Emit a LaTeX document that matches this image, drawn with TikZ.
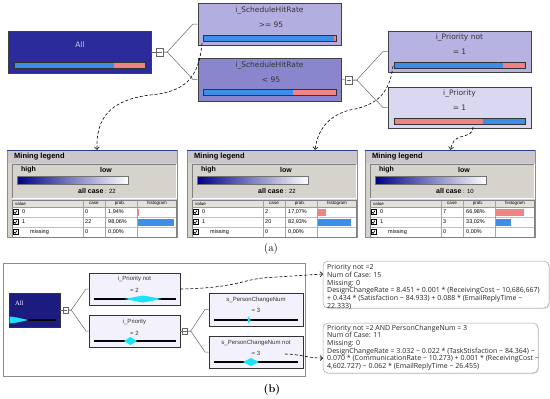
\documentclass[tikz,border=0pt]{standalone}
\usepackage{fontspec}
\usetikzlibrary{arrows.meta,shadows,calc}
\newfontfamily\dvs{DejaVu Sans}
\newfontfamily\las{Liberation Sans}
\newfontfamily\lasr{Liberation Serif}
\newfontfamily\opsans{Open Sans}
\definecolor{allA}{HTML}{2B2B9B}
\definecolor{nAa}{HTML}{B2AEDF}
\definecolor{nAb}{HTML}{8A86CD}
\definecolor{nAc}{HTML}{B6B2E1}
\definecolor{nAd}{HTML}{DAD8F0}
\definecolor{barblue}{HTML}{3C8EE8}
\definecolor{barpink}{HTML}{F08484}
\definecolor{legbg}{HTML}{D6D2CC}
\definecolor{leghd}{HTML}{CBC7CB}
\definecolor{tabhd}{HTML}{E4E1DC}
\definecolor{legnavy}{HTML}{2A3C8C}
\definecolor{gradhi}{HTML}{00008A}
\definecolor{allB}{HTML}{1C1C80}
\definecolor{nB}{HTML}{F3F1FB}
\definecolor{cyanB}{HTML}{19E3F5}
\definecolor{txt}{HTML}{333333}
\tikzset{
 treeA/.style={draw=black!75, line width=0.7pt, inner sep=0pt},
 treeB/.style={draw=black!80, line width=0.9pt, inner sep=0pt, fill=nB},
 colbox/.style={draw=black!60, fill=white, line width=0.5pt, minimum width=7pt, minimum height=8pt, inner sep=0pt},
 colboxB/.style={draw=black!60, fill=white, line width=0.5pt, minimum width=5pt, minimum height=6pt, inner sep=0pt},
 tline/.style={draw=black!60, line width=0.5pt},
 ttA/.style={font=\dvs\fontsize{7.5}{8}\selectfont, text=txt, inner sep=0pt},
 ttB/.style={font=\las\fontsize{6}{7}\selectfont, text=txt, inner sep=0pt},
 barA/.style={draw=black!80, line width=0.6pt},
 dconn/.style={densely dashed, line width=0.6pt, -{Straight Barb[length=2.5pt,width=5pt]}},
 legbox/.style={draw=black!45, fill=legbg, minimum width=170pt, minimum height=87pt, inner sep=0pt},
 legtitle/.style={font=\las\bfseries\fontsize{7.5}{8}\selectfont, anchor=west, inner sep=0pt},
 legbig/.style={font=\las\bfseries\fontsize{7}{8}\selectfont, anchor=west, inner sep=0pt},
 legsmall/.style={font=\las\fontsize{6}{7}\selectfont, anchor=west, inner sep=0pt},
 tabh/.style={font=\las\fontsize{4.5}{5}\selectfont, inner sep=0pt},
 tabr/.style={font=\las\fontsize{5.5}{6}\selectfont, anchor=west, inner sep=0pt},
 callout/.style={draw=black!35, fill=white, rounded corners=5pt, line width=0.5pt, inner sep=0pt,
   drop shadow={opacity=0.25, shadow xshift=1pt, shadow yshift=-1pt}},
 ctext/.style={font=\opsans\fontsize{7}{7.7}\selectfont, align=left, inner sep=0pt, text=black!85, anchor=north west},
}
\newcommand\twobar[6]{%
 \fill[#5] (#1,#4) rectangle (#3,#4+6);
 \fill[#6] (#3,#4) rectangle (#2,#4+6);
 \draw[barA] (#1,#4) rectangle (#2,#4+6);}
\newcommand\chkbox[2]{%
 \draw[black, line width=0.5pt] (#1,#2-2.5) rectangle (#1+5,#2+2.5);
 \draw[black, line width=0.6pt] (#1+1,#2) -- (#1+2.2,#2+1.4) -- (#1+4,#2-1.4);}
\newcommand\cdia[4]{\fill[cyanB] (#1,#3) -- ({(#1+#2)/2},#3-#4) -- (#2,#3) -- ({(#1+#2)/2},#3+#4) -- cycle;}
\newcommand\mlegend[9]{%
 \node[legbox] (#1) at (#2+85,193.5) {};
 \fill[leghd] (#2+0.5,150) rectangle (#2+169.5,163);
 \draw[legnavy, line width=0.8pt] (#2,150) -- (#2+170,150);
 \node[legtitle] at (#2+7,157) {Mining legend};
 \draw[black!50] (#2+5,198) -- (#2+5,164) -- (#2+169,164);
 \draw[white] (#2+5,198) -- (#2+169,198) -- (#2+169,164);
 \node[legbig] at (#2+14,170) {high};
 \node[legbig] at (#2+93,170) {low};
 \shade[left color=gradhi, right color=white] (#2+10,176) rectangle (#2+121,184);
 \draw[black!55] (#2+10,176) rectangle (#2+121,184);
 \node[legsmall] at (#2+71,191) {\textbf{\fontsize{7}{8}\selectfont all case} : #3};
 \fill[white] (#2+5,207) rectangle (#2+169,237);
 \fill[tabhd] (#2+5,200) rectangle (#2+169,207);
 \draw[black!25] (#2+5,217) -- (#2+169,217) (#2+5,227) -- (#2+169,227);
 \foreach \cx in {76,98,130} \draw[black!35] (#2+\cx,200) -- (#2+\cx,237);
 \draw[black!50] (#2+5,200) rectangle (#2+169,237);
 \draw[black!40] (#2+5,207) -- (#2+169,207);
 \node[tabh, anchor=west] at (#2+8,203.5) {value};
 \node[tabh] at (#2+87,203.5) {case};
 \node[tabh] at (#2+113,203.5) {prob.};
 \node[tabh] at (#2+150,203.5) {histogram};
 \chkbox{#2+6}{212}
 \chkbox{#2+6}{222}
 \chkbox{#2+6}{232}
 \node[tabr] at (#2+15,212) {0};
 \node[tabr] at (#2+15,222) {1};
 \node[tabr] at (#2+23,232) {missing};
 \node[tabr] at (#2+78,212) {#4};
 \node[tabr] at (#2+78,222) {#6};
 \node[tabr] at (#2+78,232) {0};
 \node[tabr] at (#2+101,212) {#5};
 \node[tabr] at (#2+101,222) {#7};
 \node[tabr] at (#2+101,232) {0,00\%};
 \fill[barpink] (#2+131,208.5) rectangle (#2+131+#8,215.5);
 \fill[barblue] (#2+131,218.5) rectangle (#2+131+#9,225.5);
}
\begin{document}
\begin{tikzpicture}[x=1pt,y=-1pt]
\useasboundingbox (0,0) rectangle (550,399);
\fill[white] (0,0) rectangle (550,399);
% ---------------- (a) tree ----------------
\node[treeA, fill=allA, minimum width=143pt, minimum height=42pt] (allA) at (79.5,52) {};
\node[ttA, text=black!20] at (80,45) {All};
\twobar{14}{145}{114}{62}{barblue}{barpink}
\node[colbox] (ca) at (159.5,52) {};
\draw[black!60, line width=0.6pt] ([xshift=1.5pt]ca.west) -- ([xshift=-1.5pt]ca.east);
\node[treeA, fill=nAa, minimum width=143pt, minimum height=42pt] (na) at (269.5,24) {};
\node[ttA] at (269.5,11) {i\_ScheduleHitRate};
\node[ttA] at (271,25) {>= 95};
\twobar{203}{336}{334}{35}{barblue}{barpink}
\node[treeA, fill=nAb, minimum width=143pt, minimum height=43pt] (nb) at (269.5,79.5) {};
\node[ttA] at (269.5,66) {i\_ScheduleHitRate};
\node[ttA] at (271,80) {< 95};
\twobar{203}{336}{293}{89}{barblue}{barpink}
\node[colbox] (cb) at (349,80) {};
\draw[black!60, line width=0.6pt] ([xshift=1.5pt]cb.west) -- ([xshift=-1.5pt]cb.east);
\node[treeA, fill=nAc, minimum width=143pt, minimum height=41pt] (nc) at (459.5,51.5) {};
\node[ttA] at (459.5,38) {i\_Priority not};
\node[ttA] at (459.5,52) {= 1};
\twobar{394}{525}{503}{62}{barblue}{barpink}
\node[treeA, fill=nAd, minimum width=143pt, minimum height=41pt] (nd) at (459.5,107.5) {};
\node[ttA] at (459.5,94) {i\_Priority};
\node[ttA] at (459.5,108) {= 1};
\twobar{394}{525}{483}{118}{barpink}{barblue}
\draw[tline] (allA.east) -- (ca.west);
\draw[tline] (ca.east) -- ++(4,0) -- (193,24) -- (na.west);
\draw[tline] (ca.east) -- ++(4,0) -- (193,79.5) -- (nb.west);
\draw[tline] (nb.east) -- (cb.west);
\draw[tline] (cb.east) -- ++(4,0) -- (383,51.5) -- (nc.west);
\draw[tline] (cb.east) -- ++(4,0) -- (383,107.5) -- (nd.west);
% ---------------- legends ----------------
\mlegend{lega}{7}{22}{0}{1,94\%}{22}{98,06\%}{1}{36}
\mlegend{legb}{187}{22}{2}{17,07\%}{20}{82,93\%}{8}{33}
\mlegend{legc}{365}{10}{7}{66,98\%}{3}{33,02\%}{28}{15}
\coordinate (d1s) at (202,43);
\coordinate (d2s) at (393,66);
\coordinate (d3s) at (473,127);
\draw[dconn] (d1s) .. controls (199,78) and (185,92) .. (150,95) .. controls (110,100) and (96,118) .. ([xshift=5pt]lega.north);
\draw[dconn] (d2s) .. controls (390,90) and (380,105) .. (350,110) .. controls (330,115) and (318,128) .. ([xshift=43pt]legb.north);
\draw[dconn] (d3s) .. controls (473,134) and (468,135) .. (460,137) .. controls (455,139) and (452,142) .. ([xshift=0.5pt]legc.north);
\node[font=\fontsize{11}{12}\selectfont, inner sep=0pt] (capa) at (271,249) {(a)};
% ---------------- (b) ----------------
\draw[black!45, line width=0.6pt] (3,263) rectangle (305,376);
\node[treeB, fill=allB, minimum width=51pt, minimum height=34pt] (allb) at (34.5,310) {};
\node[font=\lasr\fontsize{6.5}{7}\selectfont, text=white, anchor=west, inner sep=0pt] at (15,303) {All};
\fill[cyanB] (9.5,316.5) -- (17,317.5) -- (28,320) -- (17,322.5) -- (9.5,323.5) -- cycle;
\draw[line width=1.4pt] (28,320) -- (56,320);
\node[colboxB] (cc) at (65.5,310) {};
\draw[black!60, line width=0.5pt] ([xshift=1pt]cc.west) -- ([xshift=-1pt]cc.east);
\node[treeB, minimum width=91pt, minimum height=32pt] (pa) at (134.5,289) {};
\node[ttB] at (134.5,279) {i\_Priority not};
\node[ttB] at (134.5,290) {= 2};
\draw[line width=1.4pt] (94,299) -- (176,299);
\cdia{124}{162}{299}{3.5}
\node[treeB, minimum width=91pt, minimum height=32pt] (pb) at (134.5,331) {};
\node[ttB] at (134.5,322) {i\_Priority};
\node[ttB] at (134.5,333) {= 2};
\draw[line width=1.4pt] (94,341) -- (176,341);
\cdia{124}{137}{341}{4}
\node[colboxB] (cd) at (185,331) {};
\draw[black!60, line width=0.5pt] ([xshift=1pt]cd.west) -- ([xshift=-1pt]cd.east);
\node[treeB, minimum width=94pt, minimum height=33pt] (pc) at (256,309.5) {};
\node[ttB] at (256,300) {s\_PersonChangeNum};
\node[ttB] at (256,310.5) {= 3};
\draw[line width=1.4pt] (214,320) -- (298,320);
\cdia{247.5}{250.5}{320}{4}
\node[treeB, minimum width=94pt, minimum height=32pt] (pd) at (256,352) {};
\node[ttB] at (256,342.5) {s\_PersonChangeNum not};
\node[ttB] at (256,353) {= 3};
\draw[line width=1.4pt] (214,362) -- (298,362);
\cdia{243}{259}{362}{4}
\draw[tline] (allb.east) -- (cc.west);
\draw[tline] (cc.east) -- ++(3,0) -- (86,289) -- (pa.west);
\draw[tline] (cc.east) -- ++(3,0) -- (86,331) -- (pb.west);
\draw[tline] (pb.east) -- (cd.west);
\draw[tline] (cd.east) -- ++(3,0) -- (205,309.5) -- (pc.west);
\draw[tline] (cd.east) -- ++(3,0) -- (205,352) -- (pd.west);
% callouts
\node[callout, minimum width=226pt, minimum height=47pt] (coa) at (436,284.5) {};
\node[ctext] at (327,264.5) {Priority not =2\\Num of Case: 15\\Missing: 0\\DesignChangeRate = 8.451 + 0.001 * (ReceivingCost − 10,686,667)\\+ 0.434 * (Satisfaction − 84.933) + 0.088 * (EmailReplyTime −\\22.333)};
\node[callout, minimum width=215pt, minimum height=50pt] (cob) at (430.5,348) {};
\node[ctext] at (327,324.5) {Priority not =2 AND PersonChangeNum = 3\\Num of Case: 11\\Missing: 0\\DesignChangeRate = 3.032 − 0.022 * (TaskStisfaction − 84.364) −\\0.070 * (CommunicationRate − 10.273) + 0.001 * (ReceivingCost −\\4,602.727) − 0.062 * (EmailReplyTime − 26.455)};
\coordinate (coain) at (323,274);
\coordinate (cobin) at (323,358);
\coordinate (b2s) at (285,354);
\draw[dconn] (pa.east) .. controls (232,288) and (240,281) .. (262,278) -- (coain);
\draw[dconn] (b2s) .. controls (300,354) and (306,358) .. (cobin);
\node[font=\bfseries\fontsize{11}{12}\selectfont, inner sep=0pt] (capb) at (272,390) {(b)};
\end{tikzpicture}
\end{document}
